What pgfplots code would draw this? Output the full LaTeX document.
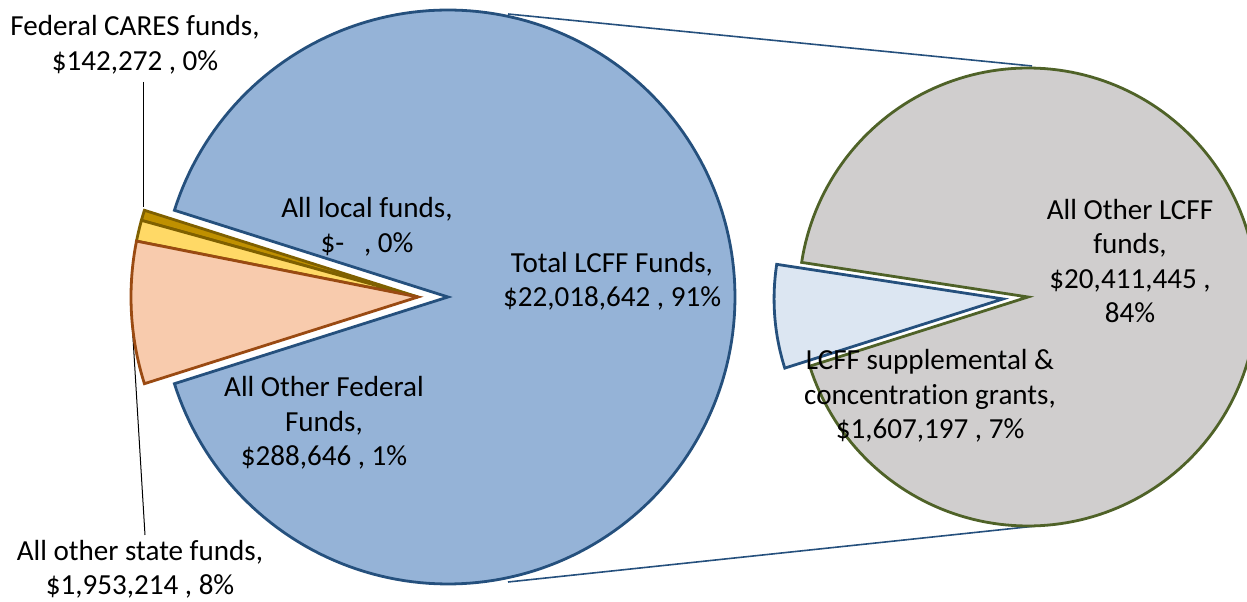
\documentclass[border=0pt]{standalone}
\usepackage{pgfplots}
\pgfplotsset{compat=1.18}
\usepackage{fontspec}
\setmainfont{Carlito}[Ligatures={NoCommon}]
\definecolor{lcffblue}{HTML}{95B3D7}
\definecolor{navy}{HTML}{25507D}
\definecolor{peach}{HTML}{F8CBAD}
\definecolor{peachline}{HTML}{9A4A12}
\definecolor{yell}{HTML}{FFD966}
\definecolor{gold}{HTML}{BF9000}
\definecolor{goldline}{HTML}{7F6000}
\definecolor{greyfill}{HTML}{D0CECE}
\definecolor{olive}{HTML}{4F6228}
\definecolor{paleblue}{HTML}{DCE6F2}
\begin{document}
\begin{tikzpicture}
% values in millions of dollars
\def\vLCFF{22.018642}
\def\vState{1.953214}
\def\vCARES{0.142272}
\def\vFed{0.288646}
\def\vLocal{0}
\def\vSupp{1.607197}
\def\vOther{20.411445}
\pgfmathsetmacro\tot{\vLCFF+\vState+\vCARES+\vFed+\vLocal}
\pgfmathsetmacro\aL{360*\vLCFF/\tot}
\pgfmathsetmacro\bA{-\aL/2}
\pgfmathsetmacro\bB{\aL/2}
\pgfmathsetmacro\cB{\bB+360*\vCARES/\tot}
\pgfmathsetmacro\fB{\cB+360*\vFed/\tot}
\pgfmathsetmacro\sB{\fB+360*\vState/\tot}
\pgfmathsetmacro\sub{\vSupp+\vOther}
\pgfmathsetmacro\uB{360+\bA}
\pgfmathsetmacro\uA{\uB-360*\vSupp/\sub}
\pgfmathsetmacro\uM{(\uA+\uB)/2}
\pgfmathsetmacro\ux{1028+25*cos(\uM)}
\pgfmathsetmacro\uy{305+25*sin(\uM)}
\pgfmathsetmacro\gB{\uA+360}
\begin{axis}[
  width=623.5bp, height=301bp, scale only axis,
  xmin=0, xmax=1247, ymin=0, ymax=602,
  hide axis, clip=true,
  every axis plot/.append style={line join=miter},
]
% connector lines
\addplot[navy, line width=0.8bp] coordinates {(508,588) (1032,536)};
\addplot[navy, line width=0.8bp] coordinates {(508,20) (1036,76)};
% leader lines
\addplot[black, line width=0.5bp] coordinates {(143,520) (143,395)};
\addplot[black, line width=0.5bp] coordinates {(131,297) (145,67)};
% main pie
\addplot[fill=lcffblue, draw=navy, line width=1.4bp, domain=\bA:\bB, samples=200] ({448+287*cos(x)},{305+287*sin(x)}) -- (axis cs:448,305) -- cycle;
\addplot[fill=gold, draw=goldline, line width=1.4bp, domain=\bB:\cB, samples=10] ({418+287*cos(x)},{305+287*sin(x)}) -- (axis cs:418,305) -- cycle;
\addplot[fill=yell, draw=goldline, line width=1.4bp, domain=\cB:\fB, samples=10] ({418+287*cos(x)},{305+287*sin(x)}) -- (axis cs:418,305) -- cycle;
\addplot[fill=peach, draw=peachline, line width=1.4bp, domain=\fB:\sB, samples=40] ({418+287*cos(x)},{305+287*sin(x)}) -- (axis cs:418,305) -- cycle;
% secondary pie
\addplot[fill=greyfill, draw=olive, line width=1.4bp, domain=\uB:\gB, samples=200] ({1028+229*cos(x)},{305+229*sin(x)}) -- (axis cs:1028,305) -- cycle;
\addplot[fill=paleblue, draw=navy, line width=1.4bp, domain=\uA:\uB, samples=40] ({\ux+229*cos(x)},{\uy+229*sin(x)}) -- (axis cs:\ux,\uy) -- cycle;
% labels
\tikzset{lab/.style={align=center, font=\fontsize{14.6}{17.3}\selectfont, inner sep=0pt}}
\node[lab] at (axis cs:135,557) {Federal CARES funds,\\\$142,272 , 0\%};
\node[lab] at (axis cs:367,375) {All local funds,\\\$-\ \ \ , 0\%};
\node[lab] at (axis cs:612,321) {Total LCFF Funds,\\\$22,018,642 , 91\%};
\node[lab] at (axis cs:324,179) {All Other Federal\\Funds,\\\$288,646 , 1\%};
\node[lab] at (axis cs:140,33) {All other state funds,\\\$1,953,214 , 8\%};
\node[lab] at (axis cs:1130,341) {All Other LCFF\\funds,\\\$20,411,445 ,\\84\%};
\node[lab] at (axis cs:930,206) {LCFF supplemental \&\\concentration grants,\\\$1,607,197 , 7\%};
\end{axis}
\pgfresetboundingbox
\path[use as bounding box] (current axis.south west) rectangle (current axis.north east);
\end{tikzpicture}
\end{document}
